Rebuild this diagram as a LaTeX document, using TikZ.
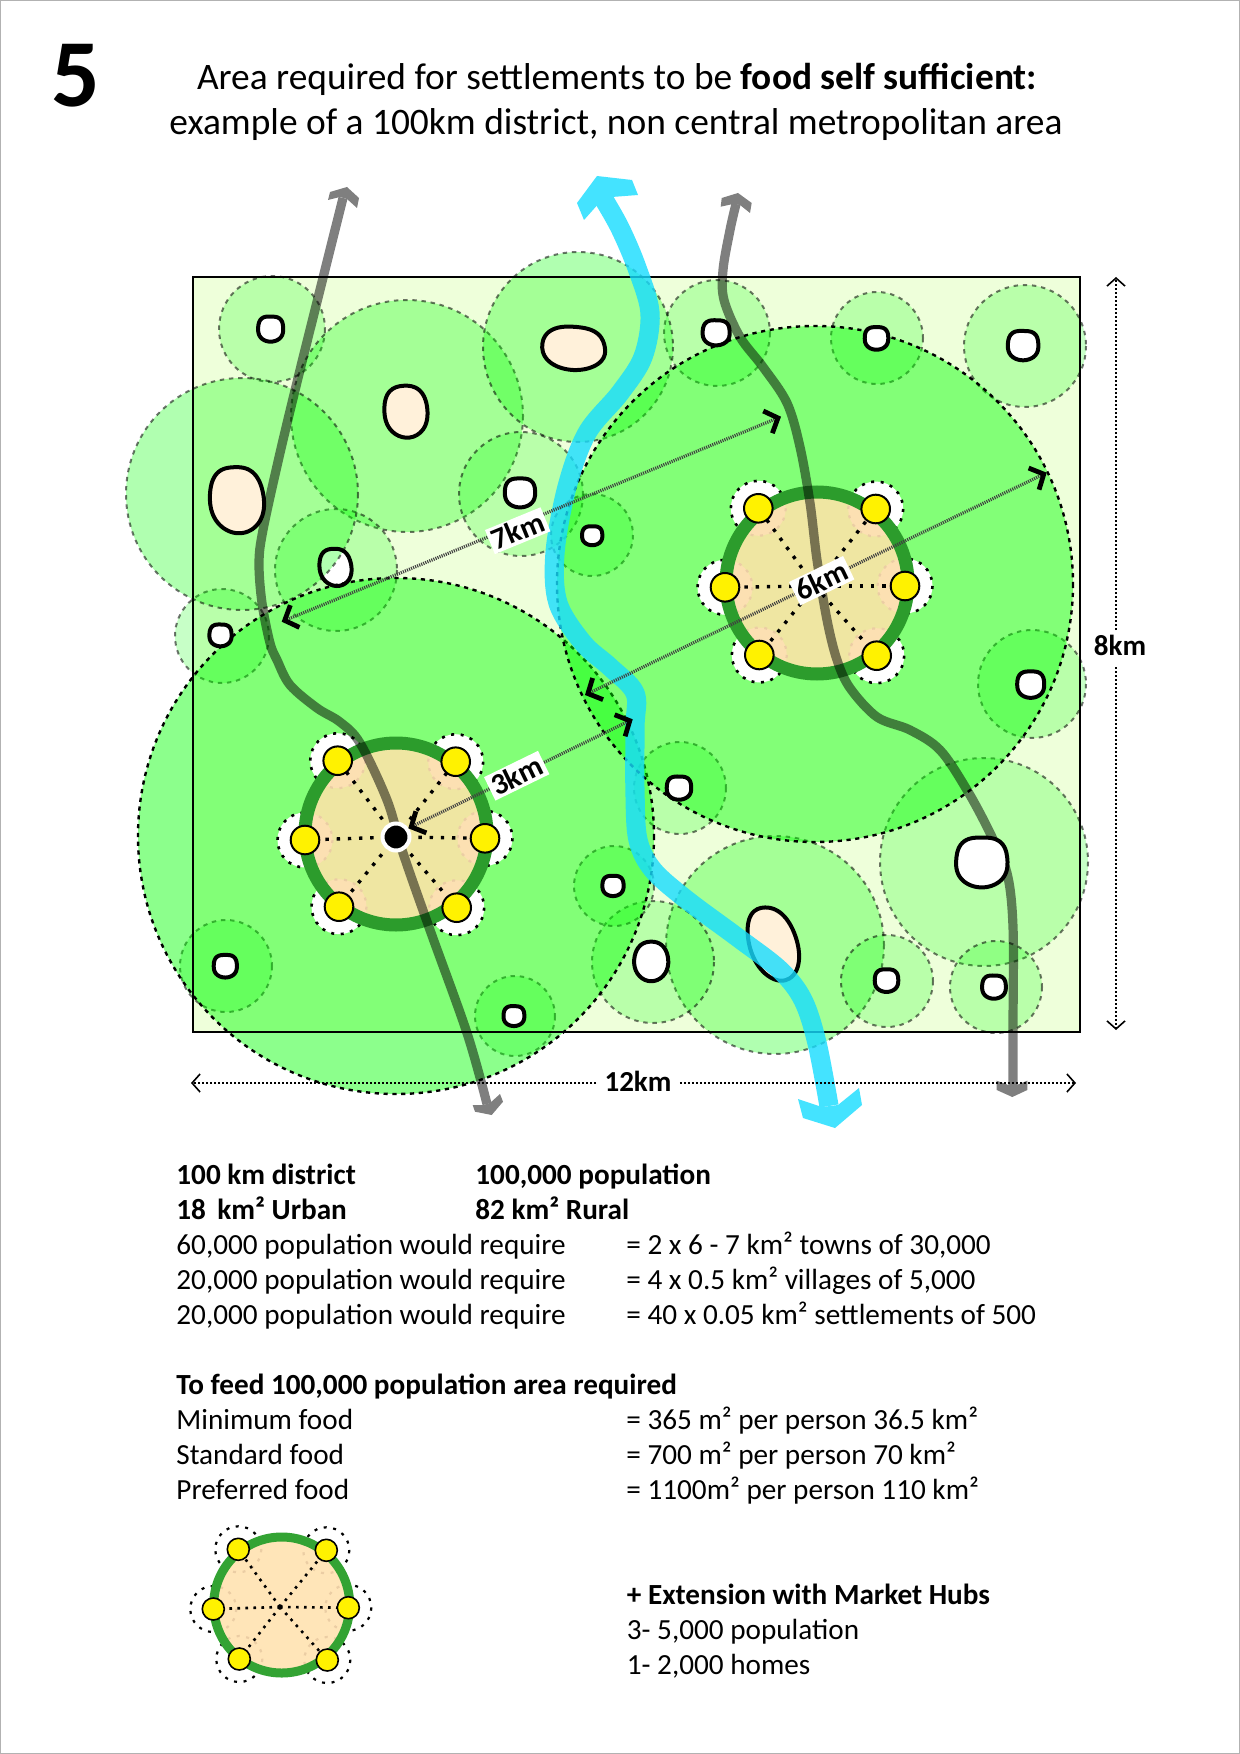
\documentclass[tikz,border=0pt]{standalone}
\usepackage{fontspec}
\setmainfont{Carlito}
\usetikzlibrary{arrows.meta}
\definecolor{paper}{HTML}{EEFFDA}
\definecolor{patch}{RGB}{0,255,0}
\definecolor{creamblob}{HTML}{FFF1DA}
\definecolor{towninner}{HTML}{EFE6A2}
\definecolor{hubcream}{HTML}{FCE0B2}
\definecolor{faintdot}{HTML}{EBCDA4}
\definecolor{legendcream}{HTML}{FFE5B8}
\definecolor{ringgreen}{HTML}{2C9C2C}
\definecolor{legendring}{HTML}{33A333}
\definecolor{rivercol}{RGB}{22,220,255}
\definecolor{dotyellow}{HTML}{FFF200}
\tikzset{
  x=0.5pt,y=-0.5pt,
  smallpatch/.style={fill=patch,fill opacity=#1,draw=black,draw opacity=.55,line width=1pt,dash pattern=on 2.2pt off 2.4pt},
  bigpatch/.style={fill=patch,fill opacity=.45,draw=black,line width=1.2pt,dash pattern=on 2.1pt off 2.3pt},
  blobline/.style={draw=black,line width=2pt,line join=round},
  whiteblob/.style={blobline,fill=white},
  creamset/.style={blobline,fill=creamblob},
  arcdots/.style={draw=black,line width=1.3pt,dash pattern=on 1.5pt off 3.3pt},
  faintdots/.style={draw=faintdot,line width=1.1pt,dash pattern=on 1.5pt off 3.3pt},
  spokedots/.style={draw=black,line width=1.7pt,dash pattern=on 1.7pt off 3.9pt},
  yellowdot/.style={fill=dotyellow,draw=black,line width=1pt},
  road/.style={draw=black,line width=4.6pt,line join=round,line cap=butt},
  river/.style={draw=rivercol,line width=9.6pt,line join=round},
  measure/.style={draw=black!75,line width=1.6pt,dash pattern=on .55pt off .55pt,
    {Straight Barb[black,length=5.5pt,width=12pt,line width=2.4pt]}-{Straight Barb[black,length=5.5pt,width=12pt,line width=2.4pt]}},
  dimline/.style={draw=black,line width=.9pt,dash pattern=on .9pt off 1.1pt},
  dimtip/.style={-{Straight Barb[length=4pt,width=9pt,line width=.8pt]}},
  km/.style={fill=white,inner xsep=1.5pt,inner ysep=0pt,minimum height=13pt,font=\fontsize{15}{16}\selectfont\bfseries},
  bodytext/.style={anchor=base west,inner sep=0pt,font=\fontsize{14.6}{16}\selectfont},
  boldtext/.style={bodytext,font=\fontsize{14.6}{16}\selectfont\bfseries},
}
% #1 style, #2 cx, #3 cy, #4 rx, #5 ry, #6 egg amount, #7 egg direction, #8 squareness, #9 shear
\newcommand\blob[9]{%
  \draw[#1,variable=\t] plot[smooth cycle,domain=0:350,samples=36]
   ({#2+#4*(1+#6*cos(\t-#7)-#8*cos(4*\t)*(1-.7*sin(\t)))*cos(\t)+#9*#5*(1+#6*cos(\t-#7)-#8*cos(4*\t)*(1-.7*sin(\t)))*sin(\t)},
    {#3+#5*(1+#6*cos(\t-#7)-#8*cos(4*\t)*(1-.7*sin(\t)))*sin(\t)});}
% #1 ring centre, #2 ring radius, #3 ring width (pt), #4 dot radius, #5 arc radius,
% #6 fill, #7 ring colour, #8 spoke centre, #9 dot names
\newcommand\hubtown[9]{%
  \foreach \p in {#9}{\fill[white] (\p) circle (#5);\draw[arcdots] (\p) circle (#5);}
  \fill[#6] (#1) circle (#2);
  \begin{scope}\clip (#1) circle (#2);
    \foreach \p in {#9}{\fill[hubcream] (\p) circle (#5);\draw[faintdots] (\p) circle (#5);}
  \end{scope}
  \draw[#7,line width=#3] (#1) circle (#2);
  \foreach \p in {#9}{\draw[spokedots] (#8) -- (\p);}
  \foreach \p in {#9}{\draw[yellowdot] (\p) circle (#4);}
}
\begin{document}
\begin{tikzpicture}
\useasboundingbox (0,0) rectangle (1240,1754);
\fill[white] (0,0) rectangle (1240,1754);
\draw[black!30,line width=1pt] (0,0) rectangle (1240,1754);

% title
\node[anchor=base,inner sep=0pt,font=\fontsize{48}{50}\selectfont\bfseries] (five) at (75.5,107) {5};
\node[anchor=base,inner sep=0pt,font=\fontsize{18.7}{22}\selectfont] (title1) at (617,90) {Area required for settlements to be \textbf{food self sufficient:}};
\node[anchor=base,inner sep=0pt,font=\fontsize{18.7}{22}\selectfont] (title2) at (616,135) {example of a 100km district, non central metropolitan area};

% district
\fill[paper] (193,277) rectangle (1080,1032);

% small patches
\path[smallpatch=.22] (272,329) circle (53);
\path[smallpatch=.22] (717,333) circle (53);
\path[smallpatch=.22] (877,338) circle (46);
\path[smallpatch=.22] (1025,346) circle (61);
\path[smallpatch=.31] (407,416) circle (116);
\path[smallpatch=.31] (578,347) circle (95);
\path[smallpatch=.22] (521,494) circle (62);
\path[smallpatch=.22] (336,570) circle (61);
\path[smallpatch=.22] (222,636) circle (47);
\path[smallpatch=.22] (592,535) circle (41);
\path[smallpatch=.22] (1032,684) circle (54);
\path[smallpatch=.22] (226,966) circle (46);
\path[smallpatch=.22] (515,1016) circle (40);
\path[smallpatch=.22] (680,788) circle (46);
\path[smallpatch=.22] (984,862) circle (104);
\path[smallpatch=.31] (775,945) circle (109);
\path[smallpatch=.22] (653,962) circle (61);
\path[smallpatch=.22] (887,981) circle (46);
\path[smallpatch=.22] (996,987) circle (46);
\path[smallpatch=.22] (614,886) circle (40);
\blob{fill=white}{335}{566.3}{16.3}{19}{.05}{60}{.02}{.08}
\path[smallpatch=.31] (242,494) circle (116);

% big patches
\path[bigpatch] (396,836) circle (258);
\path[bigpatch] (815,584) circle (258);

% district outline
\draw[black,line width=1.25pt] (193,277) rectangle (1080,1032);

% settlements
\blob{whiteblob}{271}{329}{13}{13}{.03}{-150}{.035}{0}
\blob{creamset}{576.7}{347.7}{32}{22}{.1}{170}{.02}{.1}
\blob{creamset}{405}{412}{22}{26.5}{.05}{-30}{.02}{.04}
\blob{creamset}{236}{498}{27.5}{33.7}{.06}{60}{.02}{.06}
\blob{whiteblob}{520}{493}{15.7}{15}{.03}{-90}{.035}{0}
\blob{blobline}{335}{566.3}{16.3}{19}{.05}{60}{.02}{.08}
\blob{whiteblob}{220.8}{635.3}{11.5}{11.3}{.03}{-150}{.035}{0}
\blob{whiteblob}{592.2}{535.8}{10.5}{9.8}{.03}{-90}{.035}{0}
\blob{whiteblob}{716.5}{332.7}{14}{13}{.03}{-150}{.035}{0}
\blob{whiteblob}{876.5}{338.5}{12.2}{11.7}{.03}{-90}{.035}{0}
\blob{whiteblob}{1023.5}{345.5}{15.8}{15.2}{.03}{-150}{.035}{0}
\blob{whiteblob}{225.3}{966.3}{12}{11.7}{.03}{-90}{.035}{0}
\blob{whiteblob}{514.2}{1016}{10.8}{10.3}{.03}{-150}{.035}{0}
\blob{whiteblob}{613}{886}{11}{10.5}{.03}{-90}{.035}{0}
\blob{whiteblob}{679.3}{788}{12.7}{12}{.03}{-150}{.035}{0}
\blob{whiteblob}{1030.7}{684.7}{14}{13.7}{.03}{-90}{.035}{0}
\blob{creamset}{772.7}{942}{24.5}{37}{.05}{80}{.01}{.22}
\blob{whiteblob}{651.2}{959.7}{17.2}{20}{.08}{90}{.01}{0}
\blob{whiteblob}{886.5}{980.7}{12.2}{11.7}{.03}{-90}{.035}{0}
\blob{whiteblob}{994.3}{987}{12.3}{12}{.03}{-150}{.035}{0}

% towns
\coordinate (a1) at (337.7,760.7);\coordinate (a2) at (455.7,761.7);\coordinate (a3) at (305,840);
\coordinate (a4) at (485,838.3);\coordinate (a5) at (339,906.7);\coordinate (a6) at (456.7,907.7);
\coordinate (b1) at (758.3,508.3);\coordinate (b2) at (875.7,509);\coordinate (b3) at (725,587.3);
\coordinate (b4) at (905,586);\coordinate (b5) at (759.3,655);\coordinate (b6) at (876.7,655.7);
\coordinate (c1) at (238.3,1549.3);\coordinate (c2) at (326.3,1550.3);\coordinate (c3) at (213.3,1609);
\coordinate (c4) at (348.3,1607.7);\coordinate (c5) at (239.3,1659);\coordinate (c6) at (327.3,1660);
\coordinate (ringA) at (396,834);\coordinate (hubA) at (396,837);
\coordinate (ringB) at (817,583);\coordinate (hubB) at (815,586);
\coordinate (ringC) at (281.7,1605);\coordinate (hubC) at (280,1607);

\hubtown{ringA}{91}{6.5pt}{14.3}{27.5}{towninner}{ringgreen}{hubA}{a1,a2,a3,a4,a5,a6}
\hubtown{ringB}{91}{6.5pt}{14.3}{27.5}{towninner}{ringgreen}{hubB}{b1,b2,b3,b4,b5,b6}
\begin{scope}
  \foreach \p in {c1,c2,c3,c4,c5,c6}{\draw[arcdots,line width=1.1pt] (\p) circle (23);}
  \fill[legendcream] (ringC) circle (68);
  \begin{scope}\clip (ringC) circle (68);
    \foreach \p in {c1,c2,c3,c4,c5,c6}{\draw[faintdots] (\p) circle (23);}
  \end{scope}
  \draw[legendring,line width=4.5pt] (ringC) circle (68);
  \foreach \p in {c1,c2,c3,c4,c5,c6}{\draw[spokedots,line width=1.3pt,dash pattern=on 1.3pt off 2.7pt] (hubC) -- (\p);}
  \foreach \p in {c1,c2,c3,c4,c5,c6}{\draw[yellowdot,line width=.8pt] (\p) circle (11);}
\end{scope}

% roads
\begin{scope}[transparency group,opacity=.5]
\draw[road] plot[smooth,tension=.55] coordinates {(343,198)(323.3,276.7)(300,370)(280,453)(263,530)(259,563)(262,603)(270,643)(277,660)(290,685)(317,708)(340,722)(360,743)(387,800)(403,853)(430,930)(467,1033)(487,1104)};
\fill (347,187) -- (359,198) -- (357,208) -- (347,199) -- (340,197) -- (328,200) -- (330,192) -- cycle;
\fill (472.7,1105) -- (475,1111.7) -- (491.7,1115) -- (503,1101.7) -- (500,1094) -- (490,1103) -- (483,1105) -- cycle;
\draw[road] plot[smooth,tension=.55] coordinates {(736,204)(730,230)(723,270)(724,300)(740,337)(763,367)(787,403)(800,447)(810,503)(817,560)(827,620)(837,660)(850,688)(877,717)(910,730)(940,750)(967,790)(990,833)(1007,873)(1013,927)(1013,1027)(1013,1086)};
\fill (738,193) -- (751.7,203) -- (750,213) -- (740,205) -- (733,204) -- (720.7,206.7) -- (721.7,198) -- cycle;
\fill (996.7,1080.7) -- (996.7,1090) -- (1012.3,1097) -- (1027.3,1090) -- (1027.3,1080.7) -- (1016.7,1085) -- (1008.3,1085) -- cycle;
\end{scope}

% big white settlement sits over the road
\blob{whiteblob}{981.8}{861.7}{26.5}{25.7}{.01}{90}{.03}{0}

% river
\begin{scope}[transparency group,opacity=.8]
\draw[river] plot[smooth,tension=.55] coordinates {(603,198)(620,228)(637,268)(650,313)(643,357)(620,393)(587,433)(567,487)(555,553)(558,603)(583,643)(610,667)(635,693)(635,727)(635,793)(638,840)(653,870)(687,900)(737,937)(780,970)(803,1000)(817,1043)(829,1106)};
\fill[rivercol] (597,176) -- (632,180) -- (638,195) -- (612,197) -- (600,202) -- (584,220) -- (577,203) -- cycle;
\fill[rivercol] (798,1099) -- (803,1118) -- (835,1128) -- (862,1105) -- (859,1088) -- (838,1105) -- (822,1107) -- cycle;
\end{scope}

% centre of town A
\draw[fill=black,draw=white,line width=2pt] (hubA) circle (13.5);

% measures
\coordinate (m7a) at (281.7,621.7);\coordinate (m7b) at (781,416.7);
\coordinate (m6a) at (585,695);\coordinate (m6b) at (1046.7,472.7);
\coordinate (m3a) at (408.3,828.3);\coordinate (m3b) at (632.7,719.3);
\draw[measure] (m7a) -- (m7b);
\draw[measure] (m6a) -- (m6b);
\draw[measure] (m3a) -- (m3b);
\node[km,rotate=22.3] (km7) at (517.7,530.7) {7km};
\node[km,rotate=25.7] (km6) at (821.7,580.7) {6km};
\node[km,rotate=26] (km3) at (516.7,775.7) {3km};

% dimensions
\node[inner sep=0pt,font=\fontsize{14.5}{16}\selectfont\bfseries] (km12) at (638,1081) {12km};
\node[inner sep=0pt,font=\fontsize{14.5}{16}\selectfont\bfseries] (km8) at (1120,645) {8km};
\coordinate (d12a) at (191,1083);\coordinate (d12b) at (1076,1083);
\coordinate (d8a) at (1116,277);\coordinate (d8b) at (1116,1030);
\draw[dimline,dimtip] (km12.west) ++(-8,2) -- (d12a);
\draw[dimline,dimtip] (km12.east) ++(8,2) -- (d12b);
\draw[dimline,dimtip] (1116,630) -- (d8a);
\draw[dimline,dimtip] (1116,667) -- (d8b);

% table
\node[boldtext] (t1) at (176,1184) {100 km district};
\node[boldtext] (t1b) at (475,1184) {100,000 population};
\node[boldtext] (t2) at (176,1219) {18\, km² Urban};
\node[boldtext] (t2b) at (475,1219) {82 km² Rural};
\node[bodytext] (t3) at (176,1254) {60,000 population would require};
\node[bodytext] (t3b) at (626,1254) {= 2 x 6 - 7 km² towns of 30,000};
\node[bodytext] (t4) at (176,1289) {20,000 population would require};
\node[bodytext] (t4b) at (626,1289) {= 4 x 0.5 km² villages of 5,000};
\node[bodytext] (t5) at (176,1324) {20,000 population would require};
\node[bodytext] (t5b) at (626,1324) {= 40 x 0.05 km² settlements of 500};
\node[boldtext] (t6) at (176,1394) {To feed 100,000 population area required};
\node[bodytext] (t7) at (176,1429) {Minimum food};
\node[bodytext] (t7b) at (626,1429) {= 365 m² per person 36.5 km²};
\node[bodytext] (t8) at (176,1464) {Standard food};
\node[bodytext] (t8b) at (626,1464) {= 700 m² per person 70 km²};
\node[bodytext] (t9) at (176,1499) {Preferred food};
\node[bodytext] (t9b) at (626,1499) {= 1100m² per person 110 km²};
\node[boldtext] (h1) at (626.5,1604.5) {+ Extension with Market Hubs};
\node[bodytext] (h2) at (626.5,1639.5) {3- 5,000 population};
\node[bodytext] (h3) at (626.5,1674.5) {1- 2,000 homes};
\end{tikzpicture}
\end{document}
